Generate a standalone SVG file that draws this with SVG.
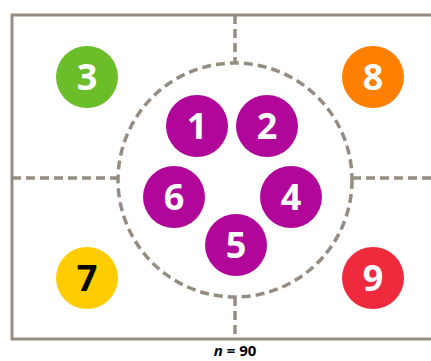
<svg xmlns="http://www.w3.org/2000/svg" width="431" height="361" viewBox="0 0 431 361">
<style>
.frame{fill:none;stroke:#958d82;stroke-width:3}
.dash{fill:none;stroke:#958d82;stroke-width:3.5;stroke-dasharray:9 5}
.num{font-family:"Open Sans","DejaVu Sans",sans-serif;font-weight:bold;font-size:36px;text-anchor:middle;fill:#fff}
.p{fill:#b0069a}
</style>
<rect width="431" height="361" fill="#fff"/>
<g id="connectors">
<path class="frame" d="M431 15H12V339H431"/>
<circle class="dash" cx="235" cy="180" r="117"/>
<path class="dash" d="M235 15V63M235 297V339M12 178H118M352 178H431"/>
</g>
<g id="n3"><circle cx="87" cy="77" r="31" fill="#6cbd2a"/><text class="num" x="87" y="90">3</text></g>
<g id="n8"><circle cx="373" cy="77" r="31" fill="#ff7f00"/><text class="num" x="373" y="90">8</text></g>
<g id="n7"><circle cx="87" cy="278" r="31" fill="#ffcc00"/><text class="num" x="87" y="291" style="fill:#000">7</text></g>
<g id="n9"><circle cx="373" cy="278" r="31" fill="#ee2a3c"/><text class="num" x="373" y="291">9</text></g>
<g id="n1"><circle class="p" cx="197" cy="126" r="31"/><text class="num" x="197" y="139">1</text></g>
<g id="n2"><circle class="p" cx="267" cy="126" r="31"/><text class="num" x="267" y="139">2</text></g>
<g id="n6"><circle class="p" cx="174" cy="197" r="31"/><text class="num" x="174" y="210">6</text></g>
<g id="n4"><circle class="p" cx="291" cy="197" r="31"/><text class="num" x="291" y="210">4</text></g>
<g id="n5"><circle class="p" cx="236" cy="245" r="31"/><text class="num" x="236" y="258">5</text></g>
<text x="235" y="356" text-anchor="middle" font-family="'Open Sans','DejaVu Sans',sans-serif" font-weight="bold" font-size="15"><tspan font-style="italic">n</tspan> = 90</text>
</svg>
